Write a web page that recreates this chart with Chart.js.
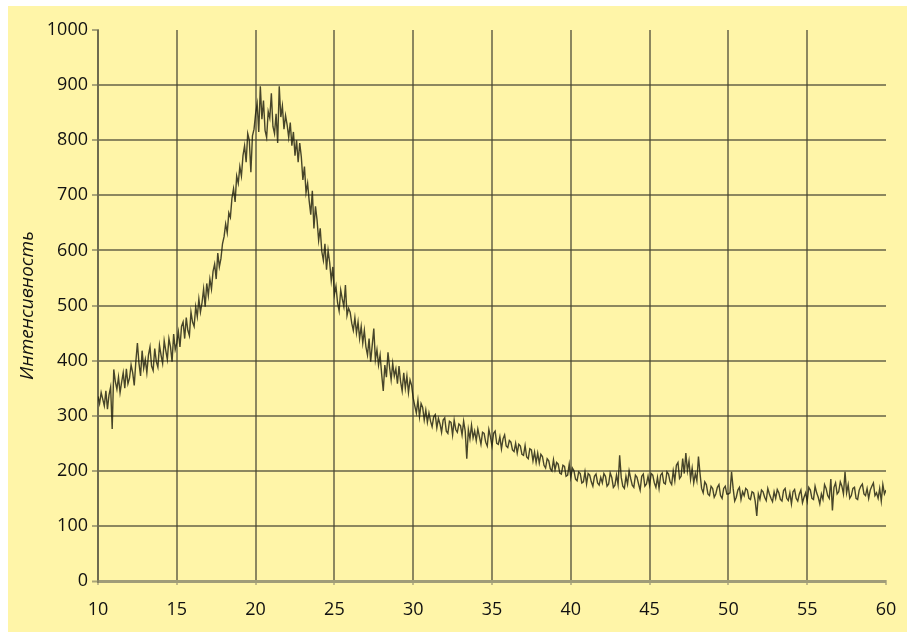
<!DOCTYPE html>
<html lang="ru">
<head>
<meta charset="UTF-8">
<title>Интенсивность</title>
<script src="https://cdn.jsdelivr.net/npm/chart.js"></script>
<style>
  html, body { margin: 0; padding: 0; background: #ffffff; }
  #box { position: absolute; left: 8px; top: 6px; width: 899px; height: 626px; background: #fff5a8; }
</style>
</head>
<body>
<div id="box"><canvas id="chart"></canvas></div>
<script>
// 2-theta grid: 10..60 step 0.1
const angleStart = 10;
const angleStep = 0.1;
const xTicks = [10, 15, 20, 25, 30, 35, 40, 45, 50, 55, 60];
const yTicks = [0, 100, 200, 300, 400, 500, 600, 700, 800, 900, 1000];

const intensity = [
  335, 322, 342, 330, 318, 345, 312, 338, 352, 276,
  384, 362, 348, 370, 342, 361, 378, 350, 385, 358,
  368, 392, 378, 355, 398, 432, 395, 372, 418, 386,
  402, 378, 410, 425, 390, 382, 422, 398, 388, 428,
  410, 395, 436, 418, 402, 440, 425, 398, 448, 420,
  432, 452, 425, 462, 470, 440, 478, 455, 445, 488,
  470, 462, 498, 480, 512, 488, 505, 530, 498, 540,
  518, 548, 530, 562, 575, 548, 595, 570, 585, 612,
  625, 648, 632, 668, 660, 695, 712, 688, 735, 722,
  752, 735, 772, 790, 760, 812, 800, 742, 808, 820,
  848, 866, 815, 898, 838, 872, 818, 805, 852, 840,
  885, 825, 812, 848, 795, 898, 842, 862, 820, 845,
  828, 805, 832, 790, 815, 772, 800, 760, 795, 770,
  728, 752, 705, 722, 690, 665, 708, 640, 680, 655,
  618, 640, 598, 582, 612, 565, 600, 578, 545, 570,
  520, 535, 505, 490, 528, 512, 498, 537, 482, 495,
  488, 468, 455, 478, 450, 470, 440, 462, 432, 455,
  425, 410, 440, 398, 428, 458, 402, 420, 392, 410,
  375, 345, 392, 370, 415, 388, 365, 395, 372, 385,
  358, 390, 362, 345, 378, 350, 372, 342, 365, 355,
  332, 318, 305, 328, 298, 322, 315, 292, 310, 288,
  305, 290, 280, 298, 302, 278, 295, 285, 270, 292,
  296, 272, 268, 290, 288, 265, 292, 275, 270, 285,
  282, 265, 290, 272, 222, 275, 258, 283, 260, 272,
  255, 276, 262, 248, 270, 268, 252, 245, 275, 262,
  245, 268, 272, 250, 248, 262, 240, 258, 265, 245,
  242, 255, 252, 238, 235, 250, 232, 248, 245, 230,
  228, 246, 225, 222, 240, 238, 218, 234, 215, 232,
  214, 230, 226, 210, 205, 222, 218, 204, 200, 220,
  202, 215, 212, 196, 194, 210, 208, 190, 192, 212,
  188, 205, 200, 185, 182, 198, 195, 178, 180, 198,
  176, 195, 192, 180, 172, 190, 194, 178, 174, 188,
  178, 195, 190, 172, 176, 196, 188, 170, 174, 192,
  175, 228, 188, 172, 168, 190, 176, 200, 186, 174,
  170, 192, 188, 176, 165, 190, 194, 172, 176, 190,
  174, 195, 192, 178, 170, 188, 168, 192, 196, 178,
  176, 198, 194, 180, 175, 200, 182, 210, 215, 186,
  190, 222, 195, 232, 200, 218, 185, 205, 178, 195,
  182, 226, 195, 168, 160, 180, 175, 158, 155, 172,
  168, 152, 158, 170, 175, 155, 150, 168, 172, 158,
  158, 160, 198, 168, 145, 152, 165, 170, 148, 162,
  155, 168, 165, 150, 148, 162, 160, 145, 118, 158,
  148, 165, 162, 152, 146, 168, 158, 150, 144, 162,
  150, 166, 160, 148, 145, 164, 168, 150, 146, 160,
  140, 162, 166, 150, 145, 158, 165, 142, 152, 160,
  145, 170, 165, 150, 148, 172, 160, 152, 140, 158,
  148, 175, 168, 155, 150, 185, 128, 170, 178, 158,
  162, 180, 172, 158, 198, 160, 175, 150, 155, 168,
  170, 150, 148, 165, 172, 176, 158, 155, 168, 150,
  165, 172, 178, 155, 160, 150, 168, 145, 175, 158,
  165
];

const points = intensity.map((v, i) => ({ x: +(angleStart + i * angleStep).toFixed(1), y: v }));

const gridDark = 'rgba(70, 68, 50, 0.62)';
const axisLight = 'rgba(120, 118, 100, 0.45)';

new Chart(document.getElementById('chart'), {
  type: 'line',
  data: {
    datasets: [{
      data: points,
      borderColor: 'rgba(25, 25, 10, 0.8)',
      borderWidth: 1.4,
      pointRadius: 0,
      tension: 0,
      fill: false
    }]
  },
  options: {
    responsive: true,
    maintainAspectRatio: false,
    animation: false,
    layout: { padding: { left: 0, right: 21, top: 24, bottom: 0 } },
    plugins: { legend: { display: false }, tooltip: { enabled: false } },
    scales: {
      x: {
        type: 'linear',
        min: 10,
        max: 60,
        afterBuildTicks: s => { s.ticks = xTicks.map(v => ({ value: v })); },
        afterFit: s => { s.height = 51; s.paddingLeft = 0; s.paddingRight = 0; },
        grid: {
          color: c => (c.tick && c.tick.value === 60) ? 'transparent' : gridDark,
          lineWidth: 2,
          tickLength: 4,
          tickColor: axisLight,
          tickWidth: 2
        },
        border: { color: axisLight, width: 3 },
        ticks: {
          color: '#111',
          padding: 14,
          maxRotation: 0,
          callback: v => String(v),
          font: { family: '"Open Sans", sans-serif', size: 18 }
        }
      },
      y: {
        min: 0,
        max: 1000,
        afterBuildTicks: s => { s.ticks = yTicks.map(v => ({ value: v })); },
        afterFit: s => { s.width = 90; },
        grid: {
          color: c => {
            if (!c.tick) return gridDark;
            if (c.tick.value === 1000) return 'transparent';
            if (c.tick.value === 0) return axisLight;
            return gridDark;
          },
          lineWidth: c => (c.tick && c.tick.value === 0) ? 3 : 2,
          tickLength: 6,
          tickColor: 'rgba(100, 98, 80, 0.55)',
          tickWidth: 2
        },
        border: { color: 'rgba(90, 88, 70, 0.6)', width: 2 },
        ticks: {
          color: '#111',
          padding: 4,
          callback: v => String(v),
          font: { family: '"Open Sans", sans-serif', size: 18 }
        },
        title: {
          display: true,
          text: 'Интенсивность',
          color: '#111',
          padding: { top: 8, bottom: 0 },
          font: { family: '"Open Sans", sans-serif', size: 19, style: 'italic' }
        }
      }
    }
  }
});
</script>
</body>
</html>
